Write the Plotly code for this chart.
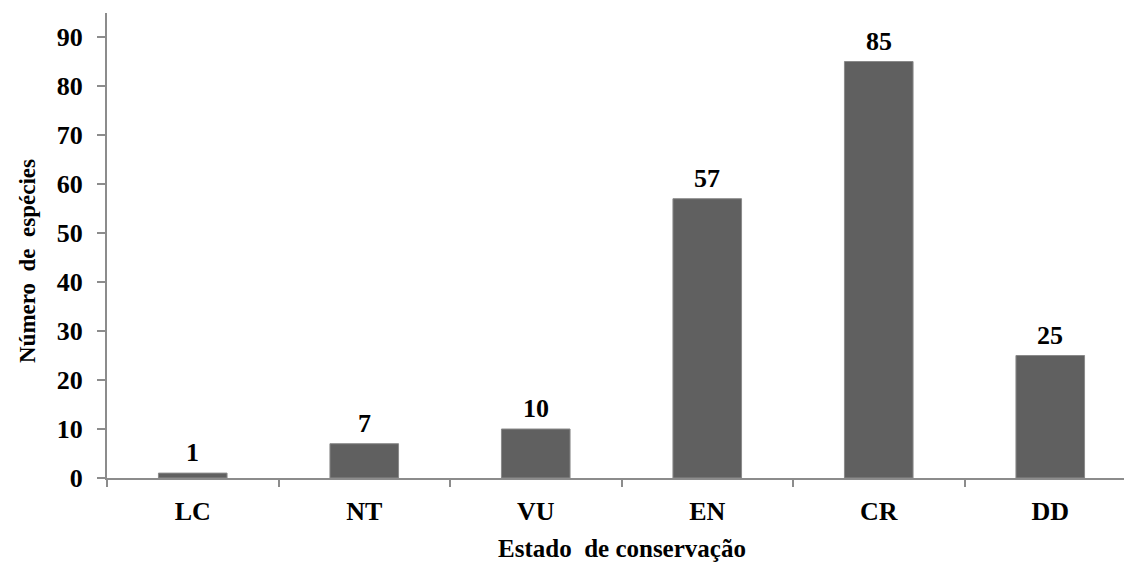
import plotly.graph_objects as go

categories = ["LC", "NT", "VU", "EN", "CR", "DD"]
values = [1, 7, 10, 57, 85, 25]
y_ticks = [0, 10, 20, 30, 40, 50, 60, 70, 80, 90]

FONT = "Liberation Serif"
AXIS_COLOR = "#8c8c8c"

fig = go.Figure(
    go.Bar(
        x=categories,
        y=values,
        marker=dict(color="#606060", line=dict(color="#8a8a8a", width=1)),
        width=0.4,
        cliponaxis=False,
    )
)

label_annotations = [
    dict(
        x=c, y=v, xref="x", yref="y",
        text=f"<b>{v}</b>",
        showarrow=False,
        xanchor="center", yanchor="bottom",
        yshift=4,
        font=dict(family=FONT, size=26, color="black"),
    )
    for c, v in zip(categories, values)
]

fig.update_layout(
    width=1116,
    height=554,
    margin=dict(l=99, r=0, t=5, b=84),
    paper_bgcolor="white",
    plot_bgcolor="white",
    showlegend=False,
    font=dict(family=FONT, color="black"),
    xaxis=dict(
        range=[-0.5, 5.43],
        showline=True,
        linecolor=AXIS_COLOR,
        linewidth=2,
        ticks="outside",
        tickson="boundaries",
        ticklen=7,
        tickwidth=2,
        tickcolor=AXIS_COLOR,
        showgrid=False,
        tickfont=dict(family=FONT, size=26, color="black", weight="bold"),
        ticklabelstandoff=9,
    ),
    yaxis=dict(
        range=[0, 94.9],
        tickvals=y_ticks,
        showline=True,
        linecolor=AXIS_COLOR,
        linewidth=2,
        ticks="outside",
        ticklen=8,
        tickwidth=2,
        tickcolor=AXIS_COLOR,
        showgrid=False,
        zeroline=False,
        tickfont=dict(family=FONT, size=26, color="black", weight="bold"),
        ticklabelstandoff=9,
    ),
    annotations=label_annotations + [
        dict(
            text="<b>Estado  de conservação</b>",
            xref="paper", yref="paper",
            x=(622 - 8 - 99) / 1017, y=-(548 - 8 - 470) / 465,
            xanchor="center", yanchor="middle",
            showarrow=False,
            font=dict(family=FONT, size=25, color="black"),
        ),
        dict(
            text="<b>Número  de  espécies</b>",
            xref="paper", yref="paper",
            x=-(99 - (27 - 8)) / 1017, y=(470 - (261 - 8)) / 465,
            xanchor="center", yanchor="middle",
            textangle=-90,
            showarrow=False,
            font=dict(family=FONT, size=23, color="black"),
        ),
    ],
)

fig.write_html("out.html")
